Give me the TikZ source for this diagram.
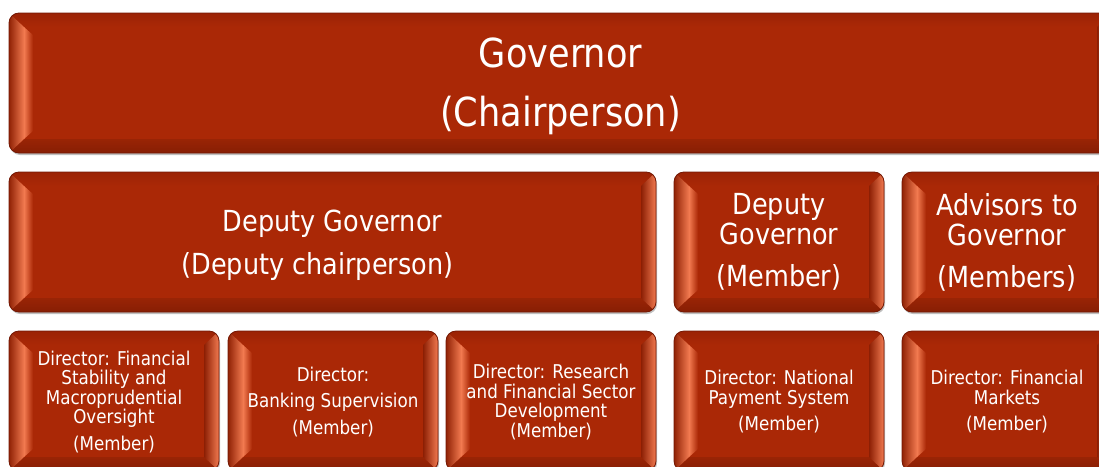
\documentclass[tikz,border=0pt]{standalone}
\usepackage{fontspec}
\setmainfont{DejaVu Sans}[FakeStretch=0.88]
\definecolor{boxfill}{RGB}{170,40,6}
\definecolor{boxedge}{RGB}{115,25,5}
\definecolor{bevlight}{RGB}{242,122,80}
\definecolor{bevdark}{RGB}{140,31,4}
\definecolor{bevtop}{RGB}{155,35,5}
\definecolor{bevbot}{RGB}{135,30,4}
\tikzset{
  boxtext/.style={text=white, align=center, inner sep=0pt},
  govfont/.style={font=\fontsize{40}{59}\selectfont, yshift=-3pt},
  midfont/.style={font=\fontsize{29}{30}\selectfont},
  widefont/.style={font=\fontsize{29}{43}\selectfont, yshift=-3pt},
  smallfont/.style={font=\fontsize{19}{19.5}\selectfont, yshift=-1pt},
}
\newcommand\orgbox[7]{%
  \fill[black,opacity=0.25,rounded corners=10pt] (#2+1,#3+2) rectangle (#4+1,#5+2);
  \begin{scope}
    \clip[rounded corners=10pt] (#2,#3) rectangle (#4,#5);
    \fill[boxfill] (#2,#3) rectangle (#4,#5);
    \shade[top color=bevtop, bottom color=boxfill] (#2,#3) -- (#4,#3) -- (#4-15,#3+14) -- (#2+15,#3+14) -- cycle;
    \shade[top color=boxfill!90!black, bottom color=bevbot] (#2,#5) -- (#4,#5) -- (#4-15,#5-14) -- (#2+15,#5-14) -- cycle;
    \shade[left color=boxfill!85!black, right color=bevlight] (#2,#3) -- (#2+15,#3+14) -- (#2+15,#5-14) -- (#2,#5) -- cycle;
    \shade[left color=bevlight, right color=boxfill] (#2+15,#3+14) -- (#2+24,#3+22) -- (#2+24,#5-22) -- (#2+15,#5-14) -- cycle;
    \shade[left color=bevdark, right color=bevlight] (#4,#3) -- (#4-15,#3+14) -- (#4-15,#5-14) -- (#4,#5) -- cycle;
  \end{scope}
  \draw[boxedge, line width=0.8pt, rounded corners=10pt] (#2,#3) rectangle (#4,#5);
  \node[boxtext,#6] (#1) at ({(#2+#4)/2},{(#3+#5)/2}) {#7};
}
\begin{document}
\begin{tikzpicture}[x=1pt,y=-1pt]
\useasboundingbox (0,0) rectangle (1099,466);
\orgbox{gov}{9}{13}{1112}{153}{govfont}{Governor\\(Chairperson)}
\orgbox{dg}{9}{172}{656}{312}{widefont}{Deputy Governor\\(Deputy chairperson)\hspace*{30pt}}
\orgbox{dgm}{674}{172}{884}{312}{midfont}{Deputy\\Governor\\[12pt](Member)}
\orgbox{adv}{902}{172}{1112}{312}{midfont}{Advisors to\\Governor\\[12pt](Members)}
\orgbox{fs}{9}{331}{219}{471}{smallfont}{Director: Financial\\Stability and\\Macroprudential\\Oversight\\[7pt](Member)}
\orgbox{bs}{228}{331}{438}{471}{smallfont}{Director:\\[7pt]Banking Supervision\\[7pt](Member)}
\orgbox{rd}{446}{331}{656}{471}{smallfont}{Director: Research\\and Financial Sector\\Development\\(Member)}
\orgbox{nps}{674}{331}{884}{471}{smallfont}{Director: National\\Payment System\\[7pt](Member)}
\orgbox{fm}{902}{331}{1112}{471}{smallfont}{Director: Financial\\Markets\\[7pt](Member)}
\end{tikzpicture}
\end{document}
